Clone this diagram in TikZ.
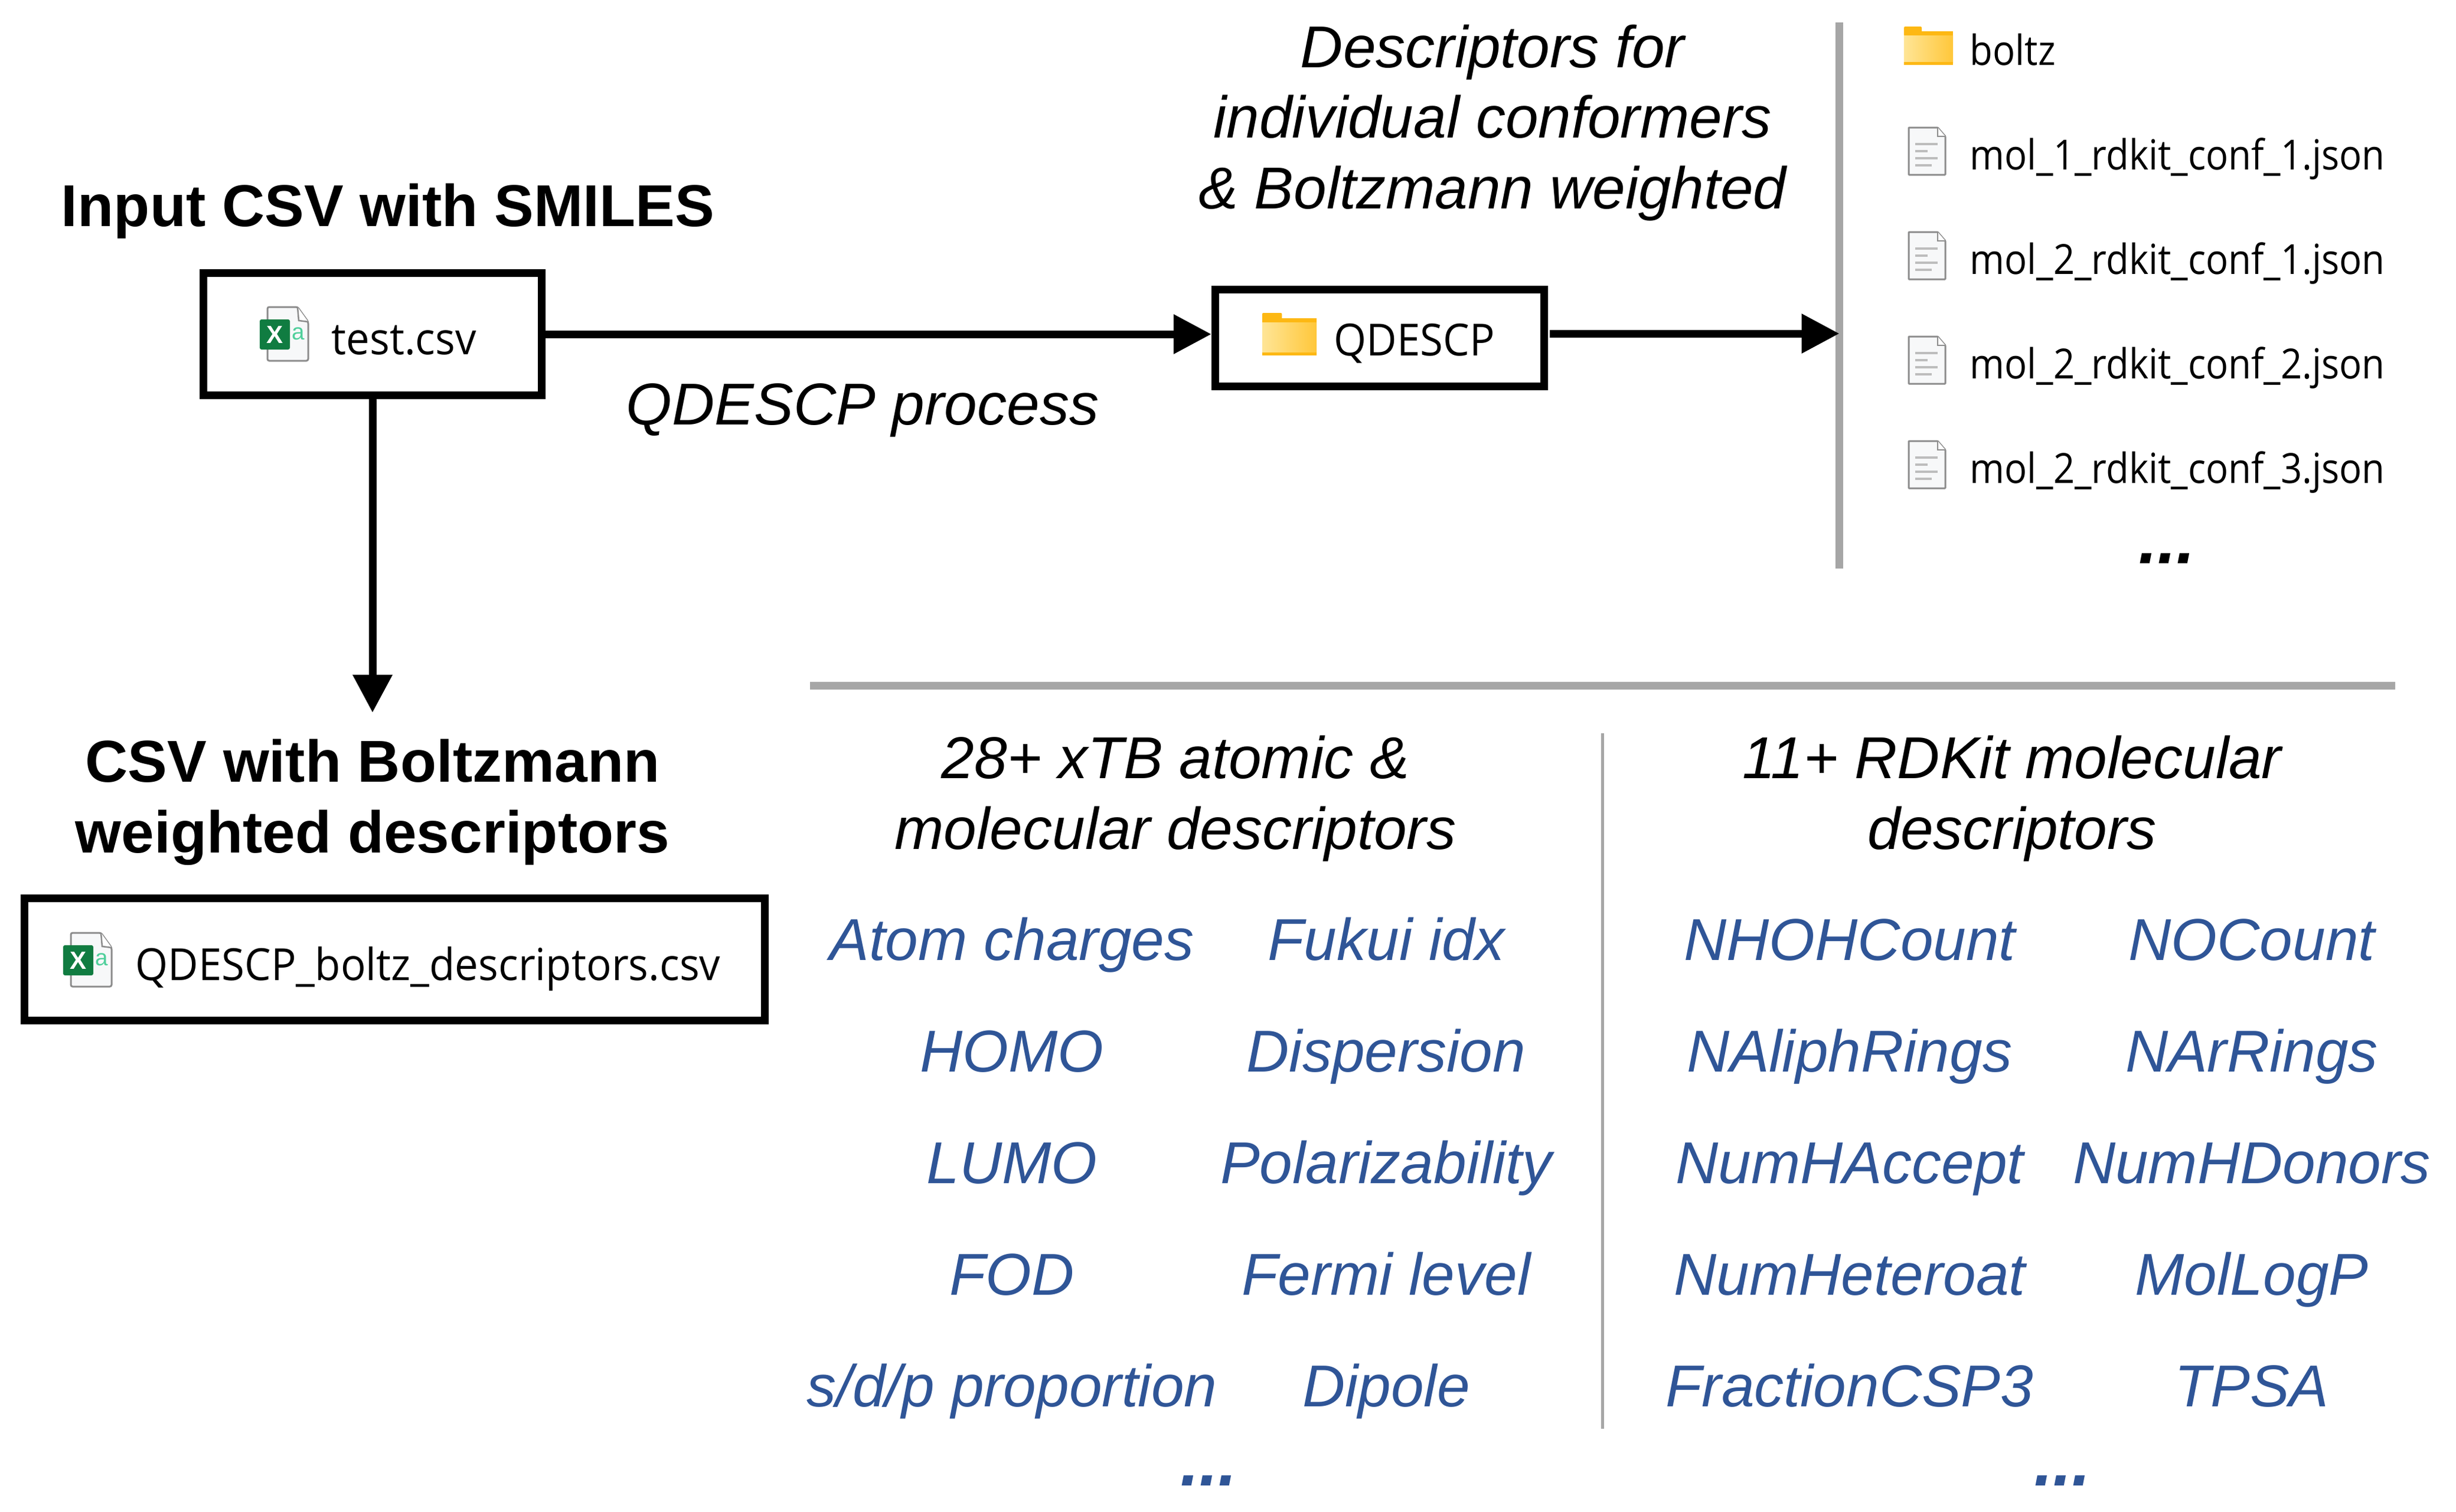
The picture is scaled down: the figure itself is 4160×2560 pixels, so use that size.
\documentclass[tikz,border=0pt]{standalone}
\usepackage{fontspec}
\setmainfont{Liberation Sans}
\newfontfamily\uifont[FakeStretch=.945]{Open Sans}
\newfontfamily\listfont[FakeStretch=.90]{Open Sans}
\usetikzlibrary{arrows.meta}
\definecolor{descblue}{HTML}{2F5597}
\definecolor{rulegray}{HTML}{A6A6A6}
\definecolor{xlsgreen}{HTML}{107C41}
\definecolor{xlsmint}{HTML}{4FCF9B}
\definecolor{foldtab}{HTML}{FDB813}
\definecolor{foldlite}{HTML}{FFE596}
\definecolor{folddark}{HTML}{FFC73A}
\definecolor{iconedge}{HTML}{8C8C8C}
\definecolor{iconbar}{HTML}{BDBDBD}
\definecolor{iconpage}{HTML}{F7F8F9}
\newcommand{\bigfont}{\fontsize{28.45}{33.97}\selectfont}
\tikzset{
  filebox/.style={draw, line width=.13cm, inner sep=0pt, fill=white},
  flow/.style={line width=.13cm, -{Triangle[length=.64cm,width=.64cm]}},
  heavyrule/.style={rulegray, line width=.13cm},
  thinrule/.style={rulegray, line width=.05cm},
  title/.style={inner sep=0pt, anchor=base, align=center, font=\bigfont\bfseries},
  note/.style={inner sep=0pt, anchor=base, align=center, font=\bigfont\itshape},
  desc/.style={inner sep=0pt, anchor=base, text=descblue, font=\bigfont\itshape},
  dots/.style={inner sep=0pt, anchor=base, font=\fontsize{32.7}{33}\selectfont\bfseries\itshape},
  uitext/.style={inner sep=0pt, anchor=base west, font=\fontsize{21.3}{26}\selectfont\uifont},
  listtext/.style={inner sep=0pt, anchor=base west, font=\fontsize{20}{24}\selectfont\listfont},
  pics/xlsicon/.style={code={
    \draw[draw=iconedge, line width=.03cm, fill=iconpage, rounded corners=.03cm]
      (13,1) -- (64,1) -- (82,26) -- (82,92) -- (13,92) -- cycle;
    \draw[draw=iconedge, line width=.025cm, fill=white] (64,1) -- (66,24) -- (82,26);
    \fill[xlsgreen, rounded corners=.03cm] (0,22) rectangle (51,73);
    \node[inner sep=0pt, text=white, font=\fontsize{12}{12}\selectfont\bfseries] (-x) at (25.5,47.5){X};
    \node[inner sep=0pt, text=xlsmint, font=\fontsize{11}{11}\selectfont] (-a) at (65,46){a};
  }},
  pics/foldericon/.style={code={
    \fill[foldtab, rounded corners=.02cm] (0,0) rectangle (30,16);
    \fill[foldtab] (22,8) rectangle (83,18);
    \shade[left color=foldlite, right color=folddark] (0,15) rectangle (83,61);
    \fill[foldtab] (0,60) rectangle (83,65);
  }},
  pics/docicon/.style={code={
    \draw[draw=iconedge, line width=.03cm, fill=iconpage, rounded corners=.01cm]
      (1,1) -- (50,1) -- (63,16) -- (63,81) -- (1,81) -- cycle;
    \draw[draw=iconedge, line width=.025cm, fill=white] (50,1) -- (50,16) -- (63,16);
    \draw[iconbar, line width=.04cm] (12,29) -- (50,29) (12,41) -- (33,41) (12,53) -- (50,53) (12,65) -- (40,65);
  }},
}
\begin{document}
\begin{tikzpicture}[x=.01cm, y=-.01cm]
\useasboundingbox (0,0) rectangle (4160,2560);
% input side
\node[title] (ttinput) at (657,383){Input CSV with SMILES};
\node[filebox, minimum width=5.73cm, minimum height=2.07cm] (boxtest) at (631,566){};
\pic (ictest) at (440,519){xlsicon};
\node[uitext] (lbtest) at (561,600){test.csv};
\node[title] (ttboltz) at (631,1444){CSV with Boltzmann\\weighted descriptors};
\node[filebox, minimum width=12.54cm, minimum height=2.07cm] (boxboltz) at (668.5,1625){};
\pic (icboltz) at (107,1579){xlsicon};
\node[uitext] (lbboltz) at (229,1660){QDESCP\_boltz\_descriptors.csv};
% qdescp folder
\node[filebox, minimum width=5.57cm, minimum height=1.64cm] (boxqd) at (2337,572.5){};
\pic[scale=1.11] (icqd) at (2138,530){foldericon};
\node[uitext] (lbqd) at (2259,602){QDESCP};
\node[note] (ntproc) at (1461,719){QDESCP process};
\node[note] (ntconf) at (2528,353){Descriptors for\\individual conformers\\\& Boltzmann weighted};
% folder listing
\coordinate (rultop) at (3115.5,38);
\coordinate (rulbot) at (3115.5,963);
\draw[heavyrule] (rultop) -- (rulbot);
\pic (icbz) at (3225,45){foldericon};
\node[listtext] (lbbz) at (3336,110){boltz};
\pic (icj0) at (3232,215){docicon};
\node[listtext] (lbj0) at (3336,287){mol\_1\_rdkit\_conf\_1.json};
\pic (icj1) at (3232,392){docicon};
\node[listtext] (lbj1) at (3336,464){mol\_2\_rdkit\_conf\_1.json};
\pic (icj2) at (3232,569){docicon};
\node[listtext] (lbj2) at (3336,641){mol\_2\_rdkit\_conf\_2.json};
\pic (icj3) at (3232,746){docicon};
\node[listtext] (lbj3) at (3336,818){mol\_2\_rdkit\_conf\_3.json};
\node[dots] (dtlist) at (3670,954){...};
% arrows
\coordinate (qdout) at ([shift={(3,-7.5)}]boxqd.east);
\draw[flow] (boxtest.east) -- (boxtest.east -| boxqd.west);
\draw[flow] (qdout) -- (qdout -| rultop);
\coordinate (csvin) at (631,1207);
\draw[flow] (boxtest.south) -- (csvin);
% descriptor panel
\coordinate (panl) at (1372,1161);
\coordinate (panr) at (4057,1161);
\draw[heavyrule] (panl) -- (panr);
\coordinate (midtop) at (2714,1242);
\coordinate (midbot) at (2714,2420);
\draw[thinrule] (midtop) -- (midbot);
\node[note] (ntxtb) at (1991,1438){28+ xTB atomic \&\\molecular descriptors};
\node[note] (ntrd) at (3408,1438){11+ RDKit molecular\\descriptors};
\node[desc] (da0) at (1714,1626){Atom charges};
\node[desc] (db0) at (2348,1626){Fukui idx};
\node[desc] (dc0) at (3133,1626){NHOHCount};
\node[desc] (dd0) at (3814,1626){NOCount};
\node[desc] (da1) at (1714,1815){HOMO};
\node[desc] (db1) at (2348,1815){Dispersion};
\node[desc] (dc1) at (3133,1815){NAliphRings};
\node[desc] (dd1) at (3814,1815){NArRings};
\node[desc] (da2) at (1714,2004){LUMO};
\node[desc] (db2) at (2348,2004){Polarizability};
\node[desc] (dc2) at (3133,2004){NumHAccept};
\node[desc] (dd2) at (3814,2004){NumHDonors};
\node[desc] (da3) at (1714,2193){FOD};
\node[desc] (db3) at (2348,2193){Fermi level};
\node[desc] (dc3) at (3133,2193){NumHeteroat};
\node[desc] (dd3) at (3814,2193){MolLogP};
\node[desc] (da4) at (1714,2382){s/d/p proportion};
\node[desc] (db4) at (2348,2382){Dipole};
\node[desc] (dc4) at (3133,2382){FractionCSP3};
\node[desc] (dd4) at (3814,2382){TPSA};
\node[dots, text=descblue] (dtxtb) at (2047,2516){...};
\node[dots, text=descblue] (dtrd) at (3493,2516){...};
\end{tikzpicture}
\end{document}
